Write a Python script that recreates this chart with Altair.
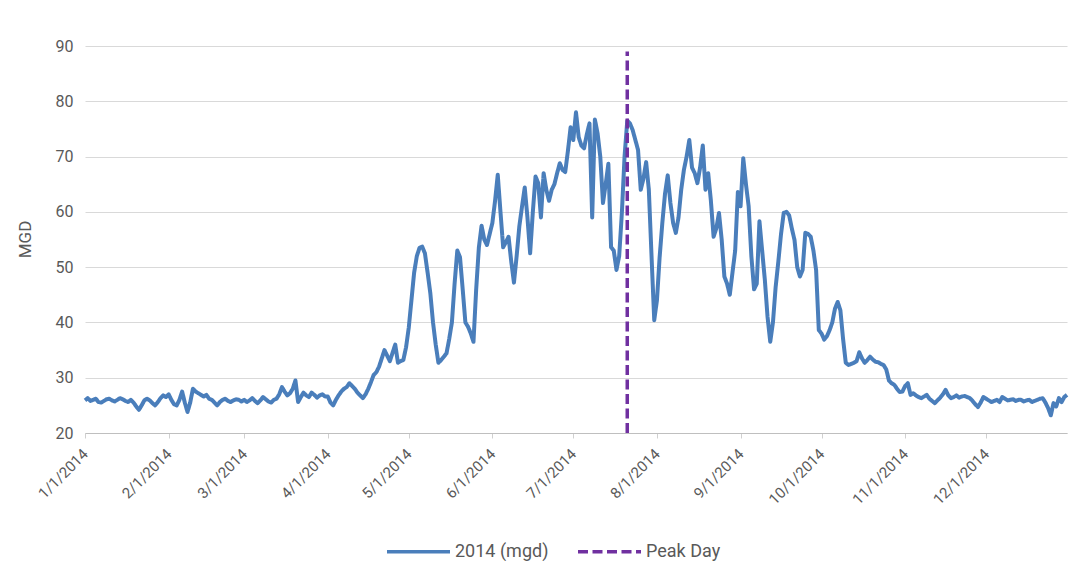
import altair as alt
import pandas as pd

# Daily flow values (MGD), month by month
jan = [25.9, 26.3, 25.8, 26.0, 26.2, 25.6, 25.5, 25.8, 26.1, 26.2, 25.9, 25.7, 26.0, 26.3, 26.1, 25.8,
       25.6, 26.0, 25.5, 24.8, 24.2, 25.0, 25.9, 26.2, 25.9, 25.4, 25.0, 25.6, 26.3, 26.8, 26.5]
feb = [27.0, 26.0, 25.2, 25.0, 26.0, 27.5, 25.5, 23.8, 25.5, 28.0, 27.5, 27.2, 26.9, 26.6, 26.9, 26.2,
       26.0, 25.5, 25.0, 25.6, 26.0, 26.2, 25.8, 25.6, 25.9, 26.1, 26.0, 25.7]
mar = [26.0, 25.6, 25.9, 26.3, 25.8, 25.4, 25.9, 26.5, 26.1, 25.7, 25.5, 26.0, 26.2, 27.0, 28.3, 27.5,
       26.8, 27.2, 28.0, 29.5, 25.6, 26.5, 27.3, 26.8, 26.5, 27.3, 26.9, 26.4, 26.8, 27.0, 26.6]
apr = [26.6, 25.5, 25.0, 26.0, 26.8, 27.5, 28.0, 28.3, 29.0, 28.5, 28.0, 27.3, 26.8, 26.3, 27.0, 28.0,
       29.2, 30.5, 31.0, 32.0, 33.5, 35.0, 34.0, 33.0, 34.5, 36.0, 32.7, 33.0, 33.2, 35.5]
may = [39.0, 44.0, 49.0, 52.0, 53.5, 53.7, 52.5, 49.0, 45.3, 40.0, 36.0, 32.7, 33.2, 33.8, 34.4, 37.0,
       40.0, 47.0, 53.0, 51.8, 46.0, 40.0, 39.2, 38.0, 36.5, 46.0, 53.6, 57.5, 55.0, 54.0, 56.0]
jun = [58.0, 62.0, 66.7, 60.0, 53.6, 54.5, 55.5, 51.0, 47.2, 52.0, 57.4, 61.0, 64.4, 59.0, 52.5, 60.0,
       66.4, 65.2, 59.0, 67.0, 64.0, 62.0, 64.0, 65.0, 67.0, 68.8, 67.6, 67.2, 71.0, 75.3]
jul = [73.0, 78.0, 73.5, 72.0, 71.5, 74.0, 76.0, 59.0, 76.7, 74.2, 70.0, 61.6, 65.0, 68.7, 53.6, 53.0,
       49.5, 52.0, 59.8, 70.0, 76.5, 76.0, 74.8, 73.0, 71.2, 64.0, 66.0, 69.0, 64.0, 52.0, 40.4]
aug = [44.0, 51.8, 58.0, 63.3, 66.6, 61.6, 58.0, 56.2, 59.0, 64.0, 67.6, 70.0, 73.0, 68.0, 67.0, 65.2,
       68.0, 72.0, 64.0, 67.0, 62.0, 55.5, 57.0, 59.8, 55.0, 48.3, 47.0, 45.0, 49.0, 53.0, 63.6]
sep = [61.0, 69.7, 65.0, 61.0, 52.0, 46.0, 47.0, 58.3, 53.0, 47.7, 41.0, 36.5, 40.0, 46.4, 51.0, 56.0,
       59.8, 60.0, 59.4, 57.0, 54.9, 50.0, 48.3, 49.5, 56.2, 56.0, 55.5, 53.0, 49.5, 38.6]
oct_ = [38.0, 36.9, 37.5, 38.6, 40.0, 42.5, 43.7, 42.2, 37.0, 32.7, 32.3, 32.5, 32.7, 33.0, 34.6, 33.5,
        32.7, 33.2, 33.8, 33.3, 32.9, 32.8, 32.5, 32.3, 31.5, 29.5, 29.0, 28.7, 28.0, 27.4, 27.5]
nov = [28.5, 29.0, 26.9, 27.2, 26.8, 26.5, 26.3, 26.6, 26.9, 26.2, 25.8, 25.4, 25.9, 26.4, 27.0, 27.8,
       26.8, 26.3, 26.5, 26.8, 26.4, 26.6, 26.7, 26.5, 26.3, 25.8, 25.2, 24.7, 25.5, 26.5]
dec = [26.2, 25.9, 25.6, 25.8, 26.0, 25.6, 26.5, 26.2, 25.9, 26.0, 26.1, 25.8, 26.0, 26.0, 25.7, 25.9,
       26.0, 25.6, 25.8, 26.0, 26.2, 26.3, 25.5, 24.5, 23.2, 25.4, 24.8, 26.3, 25.6, 26.5, 26.9]

series_names = ["2014 (mgd)", "Peak Day"]
peak_day = "2014-07-21"
y_ticks = [20, 30, 40, 50, 60, 70, 80, 90]
tick_months = list(range(1, 13))

values = jan + feb + mar + apr + may + jun + jul + aug + sep + oct_ + nov + dec
dates = pd.date_range("2014-01-01", periods=len(values), freq="D").strftime("%Y-%m-%d")
flow = pd.DataFrame({"date": dates, "mgd": values, "series": series_names[0]})
peak = pd.DataFrame({"date": [peak_day], "y": [20], "y2": [89], "series": [series_names[1]]})

GRAY = "#595959"
FONT = "Roboto"

color_scale = alt.Scale(domain=series_names, range=["#4a7ebb", "#7030a0"])
dash_scale = alt.Scale(domain=series_names, range=[[1, 0], [10, 4.5]])
x_scale = alt.Scale(type="utc", domain=["2014-01-01", "2014-12-31"])

x_axis = alt.Axis(
    title=None,
    values=[alt.DateTime(year=2014, month=m, date=1, utc=True) for m in tick_months],
    labelExpr="utcFormat(datum.value, '%-m/%-d/%Y')",
    labelAngle=-45, labelAlign="right", labelBaseline="middle",
    labelFontSize=15, labelColor=GRAY, labelFont=FONT, labelPadding=13,
    grid=False, domainColor="#bfbfbf", domainWidth=1.2,
    tickColor="#d0d0d0", tickSize=5, labelOverlap=False,
)
y_axis = alt.Axis(
    values=y_ticks, title="MGD", titleFontSize=17, titleFontWeight="normal",
    titleColor=GRAY, titleFont=FONT, titleX=-60, titleY=193, titleAngle=-90,
    titleAlign="center", titleBaseline="middle",
    labelFontSize=16, labelColor=GRAY, labelFont=FONT, labelPadding=12,
    domain=False, ticks=False, gridColor="#d9d9d9", gridWidth=1.2,
)

line = alt.Chart(flow).mark_line(strokeWidth=4, strokeJoin="round").encode(
    x=alt.X("date:T", scale=x_scale, axis=x_axis),
    y=alt.Y("mgd:Q", scale=alt.Scale(domain=[20, 90], nice=False, zero=False), axis=y_axis),
    color=alt.Color("series:N", scale=color_scale, title=None),
    strokeDash=alt.StrokeDash("series:N", scale=dash_scale, title=None),
)

rule = alt.Chart(peak).mark_rule(strokeWidth=3.5).encode(
    x=alt.X("date:T", scale=x_scale),
    y="y:Q",
    y2="y2:Q",
    color=alt.Color("series:N", scale=color_scale, title=None),
    strokeDash=alt.StrokeDash("series:N", scale=dash_scale, title=None),
)

chart = alt.layer(line, rule).properties(
    width=982, height=387,
    autosize=alt.AutoSizeParams(type="none"),
    padding={"left": 77, "top": 38, "right": 10, "bottom": 128},
    background="white",
).configure_view(stroke=None).configure_legend(
    orient="none", legendX=300, legendY=472, direction="horizontal",
    symbolType="stroke", symbolSize=3969, symbolStrokeWidth=3.5,
    labelFontSize=18, labelColor=GRAY, labelFont=FONT, labelOffset=3,
    columnPadding=22,
)

chart.save("out.html", embed_options={"renderer": "svg", "actions": False})
